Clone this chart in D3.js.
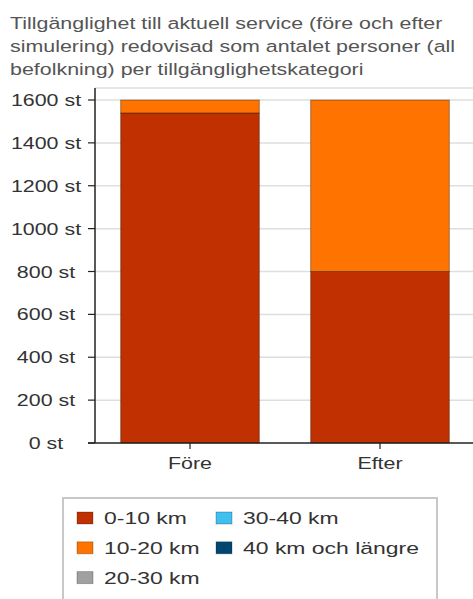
<!DOCTYPE html>
<html><head><meta charset="utf-8">
<script src="https://cdn.jsdelivr.net/npm/d3@7"></script>
<style>html,body{margin:0;padding:0;background:#fff;}svg{display:block;font-family:"Liberation Sans",Arial,sans-serif;}</style>
</head><body>
<svg id="c" width="473" height="599"></svg>
<script>
const titleLines = ["Tillgänglighet till aktuell service (före och efter","simulering) redovisad som antalet personer (all","befolkning) per tillgänglighetskategori"];
const categories = ["Före","Efter"];
const seriesNames = ["0-10 km","10-20 km","20-30 km","30-40 km","40 km och längre"];
const seriesColors = ["#c03000","#ff7300","#a0a0a0","#40c0f0","#004870"];
const v0_10 = [1540, 800];
const v10_20 = [60, 800];
const v20_30 = [0, 0];
const v30_40 = [0, 0];
const v40plus = [0, 0];
const yTicks = [0,200,400,600,800,1000,1200,1400,1600];
const tickSuffix = " st";

(function(){
const seriesValues = [v0_10, v10_20, v20_30, v30_40, v40plus];
const rows = categories.map((c,i)=>{const o={cat:c}; seriesNames.forEach((s,j)=>o[s]=seriesValues[j][i]); return o;});
const stack = d3.stack().keys(seriesNames)(rows);

const svg = d3.select("#c");
const SX = 1.26, SXL = 1.35, FS = 17;
// Title
svg.append("g").selectAll("text").data(titleLines).join("text")
  .attr("transform",(d,i)=>`translate(10,${29+i*23}) scale(${SX},1)`)
  .attr("font-size",FS).attr("fill","#555").text(d=>d);

const pL=95, pR=473, pT=88, pB=443;
const y = d3.scaleLinear().domain([0,1600]).range([pB,100]);
const x = d3.scaleBand().domain(categories).range([95,475]).paddingInner(0.27).paddingOuter(0.135);

// gridlines
svg.append("g").selectAll("line").data(yTicks.slice(1)).join("line")
  .attr("x1",pL).attr("x2",pR).attr("y1",d=>y(d)).attr("y2",d=>y(d))
  .attr("stroke","#dedede").attr("stroke-width",1.5);
svg.append("line").attr("x1",pL).attr("x2",pR).attr("y1",pT).attr("y2",pT)
  .attr("stroke","#dedede").attr("stroke-width",1.5);

// bars
svg.append("g").selectAll("g").data(stack).join("g")
  .attr("fill",(d,i)=>seriesColors[i])
  .selectAll("rect").data(d=>d.filter(e=>e[1]-e[0]>0)).join("rect")
  .attr("x",d=>x(d.data.cat)).attr("width",x.bandwidth())
  .attr("y",d=>y(d[1])).attr("height",d=>y(d[0])-y(d[1]))
  .attr("stroke","rgba(0,0,0,0.35)").attr("stroke-width",1);

// y axis
const ya = svg.append("g");
ya.append("line").attr("x1",pL).attr("x2",pL).attr("y1",pT).attr("y2",pB).attr("stroke","#222").attr("stroke-width",1.5);
ya.selectAll("line.t").data(yTicks).join("line").attr("class","t")
  .attr("x1",88).attr("x2",pL).attr("y1",d=>y(d)).attr("y2",d=>y(d)).attr("stroke","#222").attr("stroke-width",1.2);
ya.selectAll("text").data(yTicks).join("text")
  .attr("transform",d=>`translate(46,${y(d)+6}) scale(${SX},1)`)
  .attr("text-anchor","middle").attr("font-size",FS).attr("fill","#333")
  .text(d=>d+tickSuffix);

// x axis
const xa = svg.append("g");
xa.append("line").attr("x1",88).attr("x2",pR).attr("y1",pB).attr("y2",pB).attr("stroke","#222").attr("stroke-width",1.5);
xa.selectAll("line.t").data(categories).join("line").attr("class","t")
  .attr("x1",d=>x(d)+x.bandwidth()/2).attr("x2",d=>x(d)+x.bandwidth()/2).attr("y1",pB).attr("y2",pB+6)
  .attr("stroke","#222").attr("stroke-width",1.2);
xa.selectAll("text").data(categories).join("text")
  .attr("transform",d=>`translate(${x(d)+x.bandwidth()/2},469) scale(${SX},1)`)
  .attr("text-anchor","middle").attr("font-size",FS).attr("fill","#333").text(d=>d);

// legend
svg.append("rect").attr("x",63).attr("y",498).attr("width",374).attr("height",120)
  .attr("fill","#fff").attr("stroke","#c8c8c8").attr("stroke-width",2);
const lg = svg.append("g").selectAll("g").data(seriesNames).join("g")
  .attr("transform",(d,i)=>{const col=i<3?0:1,row=i<3?i:i-3;return `translate(${col?216:77},${518+row*29.8})`;});
lg.append("rect").attr("x",0).attr("y",-6).attr("width",16).attr("height",12)
  .attr("fill",(d,i)=>seriesColors[i]).attr("stroke","rgba(0,0,0,0.25)").attr("stroke-width",1);
lg.append("text").attr("transform",`translate(27,6) scale(${SXL},1)`)
  .attr("font-size",FS).attr("fill","#333").text(d=>d);
})();
</script>
</body></html>
